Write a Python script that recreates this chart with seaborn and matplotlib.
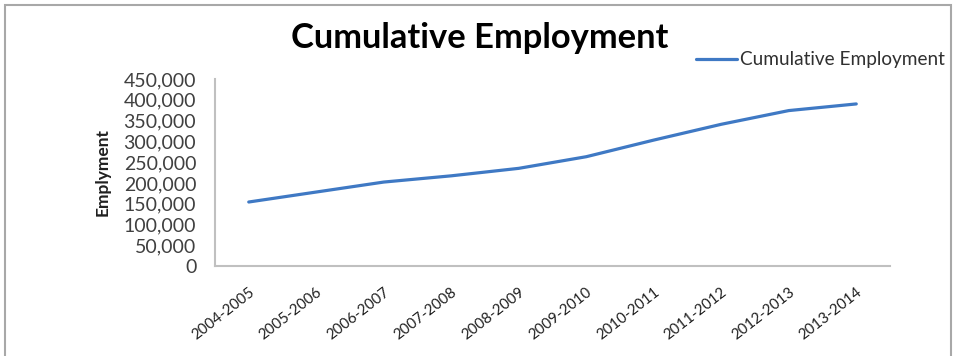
import matplotlib
matplotlib.use("Agg")
import matplotlib.pyplot as plt
from matplotlib.patches import Rectangle
from matplotlib.ticker import FuncFormatter
import seaborn as sns
import pandas as pd

# Fiscal years and cumulative employment figures
years = ["2004-2005", "2005-2006", "2006-2007", "2007-2008", "2008-2009",
         "2009-2010", "2010-2011", "2011-2012", "2012-2013", "2013-2014"]
employment = [154000, 178000, 202000, 217000, 235000,
              263000, 303000, 341000, 374000, 390000]
y_ticks = list(range(0, 450001, 50000))

df = pd.DataFrame({"Year": years, "Cumulative Employment": employment})

sns.set_theme(style="white")
plt.rcParams["font.family"] = ["Lato", "DejaVu Sans"]

W, H = 955, 356
fig = plt.figure(figsize=(W / 100, H / 100), dpi=100)
ax = fig.add_axes([215 / W, 1 - 266 / H, (890 - 215) / W, (266 - 79) / H])

blue = "#3f79c4"
sns.lineplot(data=df, x="Year", y="Cumulative Employment", sort=False,
             color=blue, linewidth=2.3, ax=ax, label="Cumulative Employment")

ax.set_xlim(-0.5, len(years) - 0.5)
ax.set_ylim(0, 450000)
ax.set_yticks(y_ticks)
ax.yaxis.set_major_formatter(FuncFormatter(lambda v, p: f"{int(v):,}"))
ax.tick_params(axis="y", labelsize=14, colors="#404040", length=0, pad=13.5)
ax.tick_params(axis="x", labelsize=10.8, colors="#202020", length=0, pad=14)
ax.set_xticks(range(len(years)))
ax.set_xticklabels(years, rotation=38, ha="right", rotation_mode="anchor")

for side in ("top", "right"):
    ax.spines[side].set_visible(False)
for side in ("left", "bottom"):
    ax.spines[side].set_color("#c0c0c0")
    ax.spines[side].set_linewidth(1.5)

ax.set_xlabel("")
ax.set_ylabel("Emplyment", fontsize=12.5, fontweight="bold", color="#202020", labelpad=9)

fig.text(480 / W, 1 - 38 / H, "Cumulative Employment", ha="center", va="center",
         fontsize=24.8, fontweight="bold", color="#000000")

ax.legend(loc="center left", bbox_to_anchor=(686 / W, 1 - 60 / H),
          bbox_transform=fig.transFigure, frameon=False, fontsize=13.7,
          handlelength=2.2, handletextpad=0.15, borderpad=0, labelcolor="#303030")

fig.patches.append(Rectangle((5 / W, -0.02), (951 - 5) / W, 1 - 5 / H + 0.02,
                             transform=fig.transFigure, fill=False,
                             edgecolor="#a8a8a8", linewidth=1.5))

fig.savefig("out.png", dpi=100)
